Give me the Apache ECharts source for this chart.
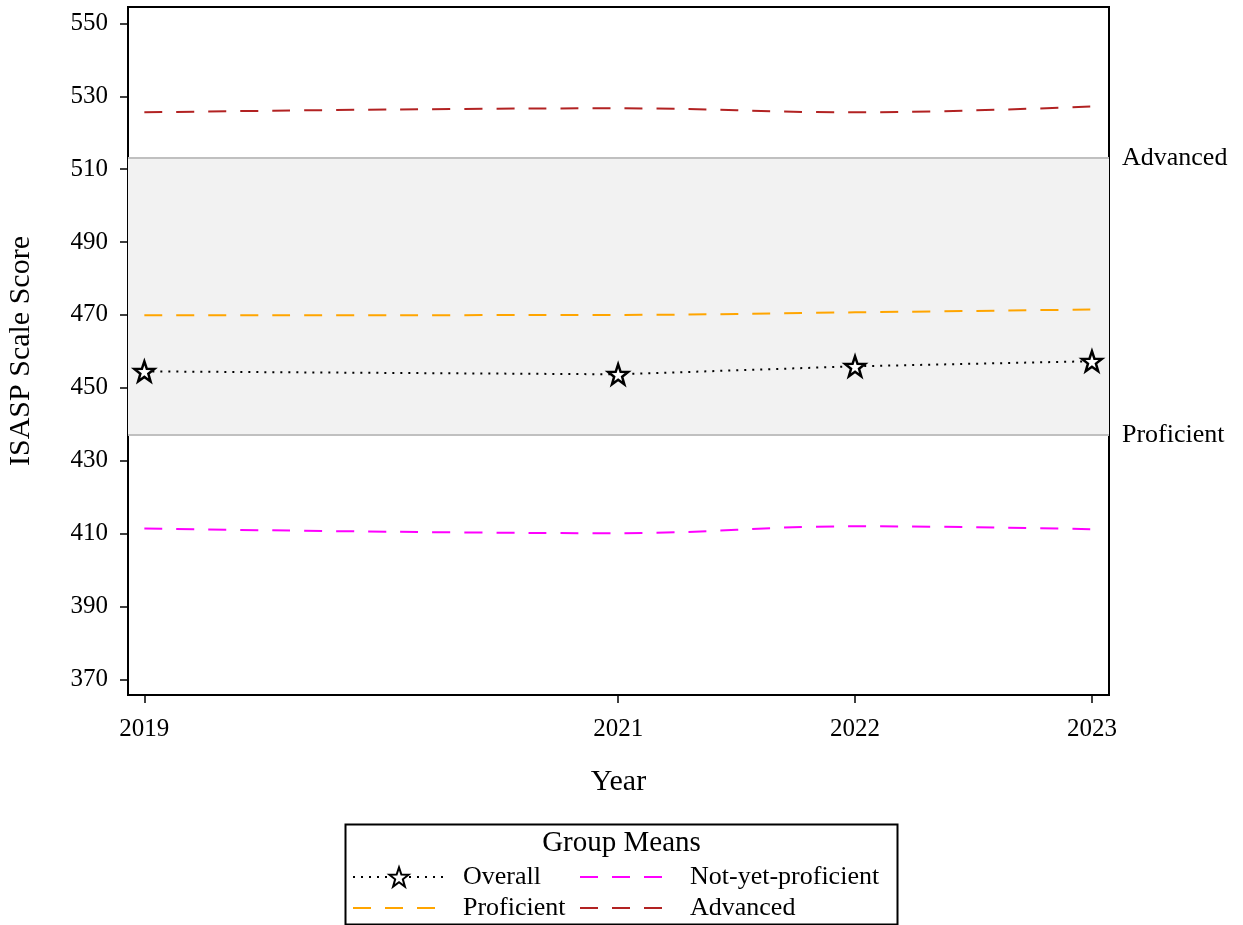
<!DOCTYPE html>
<html>
<head>
<meta charset="utf-8">
<script src="https://cdn.jsdelivr.net/npm/echarts@6/dist/echarts.min.js"></script>
<style>
html,body{margin:0;padding:0;background:#fff;}
#chart{width:1243px;height:925px;}
</style>
</head>
<body>
<div id="chart"></div>
<script>
const years = [2019, 2021, 2022, 2023];
const overall = [454.5, 453.7, 455.9, 457.3];
const proficient = [469.9, 470.0, 470.7, 471.5];
const advanced = [525.6, 526.7, 525.6, 527.2];
const notYet = [411.4, 410.1, 412.0, 411.2];
const yTicks = [370, 390, 410, 430, 450, 470, 490, 510, 530, 550];
const cutProficient = 437;
const cutAdvanced = 513;

const FONT = '"Liberation Serif", "Times New Roman", serif';
const STAR = 'path://M50 0 L61.76 33.82 L97.55 34.55 L69.02 56.18 L79.39 90.45 L50 70 L20.61 90.45 L30.98 56.18 L2.45 34.55 L38.24 33.82 Z';

function pairs(vals) { return years.map((y, i) => [y, vals[i]]); }

const chart = echarts.init(document.getElementById('chart'), null, {renderer: 'canvas'});

function legendItem(name, left, top, hideSymbol) {
  const l = {
    data: [name], left: left, top: top, orient: 'horizontal',
    itemWidth: 92, itemHeight: 24, padding: 0,
    selectedMode: false,
    textStyle: {fontFamily: FONT, fontSize: 26, color: '#000', padding: [0, 0, 0, 13], lineHeight: 28}
  };
  if (hideSymbol) l.itemStyle = {opacity: 0};
  return l;
}

const option = {
  backgroundColor: '#fff',
  animation: false,
  grid: {left: 128, top: 7, right: 134, bottom: 230, show: true, borderColor: '#000', borderWidth: 2, backgroundColor: '#fff', outerBoundsMode: 'none', containLabel: false},
  xAxis: {
    type: 'value', min: 2018.931, max: 2023.072,
    name: 'Year', nameLocation: 'middle', nameGap: 72,
    nameTextStyle: {fontFamily: FONT, fontSize: 30, color: '#000'},
    axisLine: {show: true, lineStyle: {color: '#000', width: 2}},
    axisTick: {show: true, length: 8, lineStyle: {color: '#000', width: 1.5}, customValues: years},
    axisLabel: {fontFamily: FONT, fontSize: 25, color: '#000', margin: 22, customValues: years, formatter: v => String(v)},
    splitLine: {show: false}
  },
  yAxis: {
    type: 'value', min: 365.7, max: 554.5,
    name: 'ISASP Scale Score', nameLocation: 'middle', nameGap: 92,
    nameTextStyle: {fontFamily: FONT, fontSize: 30, color: '#000'},
    axisLine: {show: true, lineStyle: {color: '#000', width: 2}},
    axisTick: {show: true, length: 8, lineStyle: {color: '#000', width: 1.5}, customValues: yTicks},
    axisLabel: {fontFamily: FONT, fontSize: 25, color: '#000', margin: 20, customValues: yTicks},
    splitLine: {show: false}
  },
  legend: [
    legendItem('Overall', 352, 863, false),
    legendItem('Not-yet-proficient', 579, 863, true),
    legendItem('Proficient', 352, 894, true),
    legendItem('Advanced', 579, 894, true)
  ],
  graphic: [
    {type: 'rect', left: 343, top: 822, shape: {width: 552, height: 100}, style: {fill: 'none', stroke: '#000', lineWidth: 2}, z: 100},
    {type: 'text', left: 'center', top: 829, style: {text: 'Group Means', font: '29px ' + FONT, fill: '#000'}, z: 100}
  ],
  series: [
    {
      name: 'band', type: 'line', data: [], silent: true,
      markArea: {silent: true, itemStyle: {color: '#f2f2f2'}, data: [[{yAxis: cutProficient}, {yAxis: cutAdvanced}]]},
      markLine: {
        silent: true, symbol: 'none',
        lineStyle: {color: '#c0c0c0', width: 2, type: 'solid'},
        label: {show: true, position: 'end', distance: 13, fontFamily: FONT, fontSize: 26, color: '#000', formatter: p => p.name},
        data: [{yAxis: cutAdvanced, name: 'Advanced'}, {yAxis: cutProficient, name: 'Proficient'}]
      }
    },
    {
      name: 'Not-yet-proficient', type: 'line', data: pairs(notYet), smooth: 0.4, showSymbol: false, symbol: 'none',
      lineStyle: {color: '#ff00ff', width: 2, type: [18, 14]}, itemStyle: {color: '#ff00ff'}
    },
    {
      name: 'Proficient', type: 'line', data: pairs(proficient), smooth: 0.4, showSymbol: false, symbol: 'none',
      lineStyle: {color: '#ffa500', width: 2, type: [18, 14]}, itemStyle: {color: '#ffa500'}
    },
    {
      name: 'Advanced', type: 'line', data: pairs(advanced), smooth: 0.4, showSymbol: false, symbol: 'none',
      lineStyle: {color: '#b22222', width: 2, type: [18, 14]}, itemStyle: {color: '#b22222'}
    },
    {
      name: 'Overall', type: 'line', data: pairs(overall), smooth: false,
      symbol: STAR, symbolSize: 20, showSymbol: true, z: 5,
      lineStyle: {color: '#000', width: 2, type: [2, 6]},
      itemStyle: {color: '#fff', borderColor: '#000', borderWidth: 2.5}
    }
  ]
};
chart.setOption(option);
</script>
</body>
</html>
